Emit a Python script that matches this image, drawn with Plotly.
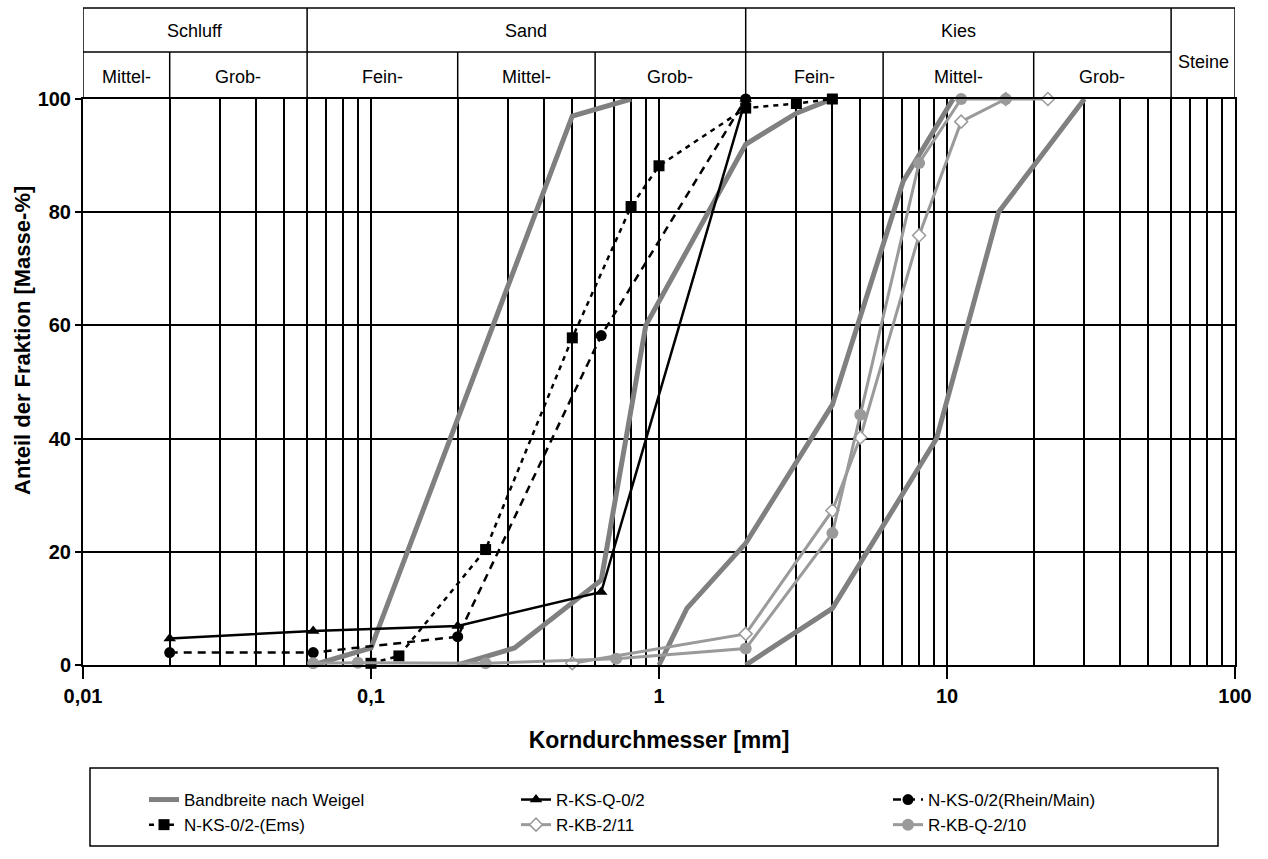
import math
import plotly.graph_objects as go

# ---------------- data ----------------
# Bandbreite nach Weigel: four boundary curves
band1_x = [0.063, 0.1, 0.5, 0.8]
band1_y = [0, 3, 97, 100]
band2_x = [0.2, 0.315, 0.63, 0.9, 2, 3, 4]
band2_y = [0, 3, 15, 60, 92, 97.5, 100]
band3_x = [1.0, 1.25, 2, 4, 7.05, 10.5]
band3_y = [0, 10, 21.5, 46, 85.5, 100]
band4_x = [2, 4, 9.2, 15.1, 30]
band4_y = [0, 10, 40, 80, 100]

rksq_x = [0.02, 0.063, 0.2, 0.63, 2]
rksq_y = [4.7, 6.0, 6.9, 12.9, 100]

nks_rm_x = [0.02, 0.063, 0.2, 0.63, 2]
nks_rm_y = [2.2, 2.2, 5.0, 58.2, 100]

nks_ems_x = [0.1, 0.125, 0.25, 0.5, 0.8, 1, 2, 3, 4]
nks_ems_y = [0.3, 1.6, 20.4, 57.8, 81, 88.2, 98.4, 99.2, 100]

rkb_x = [0.5, 2, 4, 5, 8, 11.2, 16, 22.4]
rkb_y = [0.3, 5.5, 27.3, 40.2, 75.9, 96, 100, 100]

rkbq_x = [0.063, 0.09, 0.25, 0.71, 2, 4, 5, 8, 11.2, 16]
rkbq_y = [0.3, 0.4, 0.3, 1.1, 2.9, 23.3, 44.2, 88.7, 100, 100]

# header classification (grain size classes, mm)
main_classes = ["Schluff", "Sand", "Kies", "Steine"]
main_bounds = [0.01, 0.06, 2, 60, 100]
sub_classes = ["Mittel-", "Grob-", "Fein-", "Mittel-", "Grob-", "Fein-", "Mittel-", "Grob-"]
sub_bounds = [0.01, 0.02, 0.06, 0.2, 0.6, 2, 6, 20, 60]

x_tickvals = [0.01, 0.1, 1, 10, 100]
x_ticktext = ["0,01", "0,1", "1", "10", "100"]
y_tickvals = [0, 20, 40, 60, 80, 100]

# ---------------- styling ----------------
BAND = "#808080"
LIGHT = "#9a9a9a"
NARROW = "Liberation Sans Narrow, Arial Narrow, Liberation Sans, Arial"
BOLD = "Liberation Sans, Arial"

PLOT_H = 859 - 99 - 194  # 566
PLOT_W = 1268 - 83 - 33  # 1152


def py(pix):
    """paper y for a pixel row (layout helper for header/legend frame)"""
    return (665 - pix) / PLOT_H


def px(pix):
    """paper x for a pixel column"""
    return (pix - 83) / PLOT_W


fig = go.Figure()

for i, (bx, by) in enumerate([(band1_x, band1_y), (band2_x, band2_y),
                              (band3_x, band3_y), (band4_x, band4_y)]):
    fig.add_trace(go.Scatter(
        x=bx, y=by, mode="lines", name="Bandbreite nach Weigel",
        legendgroup="band", showlegend=(i == 0),
        line=dict(color=BAND, width=5), cliponaxis=False))

fig.add_trace(go.Scatter(
    x=rksq_x, y=rksq_y, mode="lines+markers", name="R-KS-Q-0/2",
    line=dict(color="black", width=2.5),
    marker=dict(symbol="triangle-up", size=11, color="black"), cliponaxis=False))

fig.add_trace(go.Scatter(
    x=nks_rm_x, y=nks_rm_y, mode="lines+markers", name="N-KS-0/2(Rhein/Main)",
    line=dict(color="black", width=2.5, dash="8px,6px"),
    marker=dict(symbol="circle", size=11, color="black"), cliponaxis=False))

fig.add_trace(go.Scatter(
    x=nks_ems_x, y=nks_ems_y, mode="lines+markers", name="N-KS-0/2-(Ems)",
    line=dict(color="black", width=2.5, dash="5px,5px"),
    marker=dict(symbol="square", size=11, color="black"), cliponaxis=False))

fig.add_trace(go.Scatter(
    x=rkb_x, y=rkb_y, mode="lines+markers", name="R-KB-2/11",
    line=dict(color=LIGHT, width=3),
    marker=dict(symbol="diamond", size=10, color="white",
                line=dict(color=LIGHT, width=1.5)), cliponaxis=False))

fig.add_trace(go.Scatter(
    x=rkbq_x, y=rkbq_y, mode="lines+markers", name="R-KB-Q-2/10",
    line=dict(color=LIGHT, width=3),
    marker=dict(symbol="circle", size=12, color=LIGHT), cliponaxis=False))

# ---------------- header table ----------------
Y_TOP = py(8)
Y_MID = py(52)
shapes = []
line_style = dict(color="black", width=1.5)
shapes.append(dict(type="line", xref="x", yref="paper", x0=main_bounds[0], x1=main_bounds[-1],
                   y0=Y_TOP, y1=Y_TOP, line=line_style))
shapes.append(dict(type="line", xref="x", yref="paper", x0=main_bounds[0], x1=main_bounds[-2],
                   y0=Y_MID, y1=Y_MID, line=line_style))
for b in main_bounds:
    shapes.append(dict(type="line", xref="x", yref="paper", x0=b, x1=b,
                       y0=1, y1=Y_TOP, line=line_style))
for b in sub_bounds[1:-1]:
    if b in main_bounds:
        continue
    shapes.append(dict(type="line", xref="x", yref="paper", x0=b, x1=b,
                       y0=1, y1=Y_MID, line=line_style))

annotations = []
for i, name in enumerate(main_classes):
    lo, hi = main_bounds[i], main_bounds[i + 1]
    cx = (math.log10(lo) + math.log10(hi)) / 2
    y = py(31) if name != "Steine" else py(62)
    annotations.append(dict(x=cx, y=y, xref="x", yref="paper", text=name,
                            xanchor="center", yanchor="middle",
                            showarrow=False, font=dict(family=NARROW, size=18, color="black")))
for i, name in enumerate(sub_classes):
    lo, hi = sub_bounds[i], sub_bounds[i + 1]
    cx = (math.log10(lo) + math.log10(hi)) / 2
    annotations.append(dict(x=cx, y=py(77), xref="x", yref="paper", text=name,
                            xanchor="center", yanchor="middle",
                            showarrow=False, font=dict(family=NARROW, size=18, color="black")))

# y axis title (centred on plot + header block, as in the original)
annotations.append(dict(x=px(22), y=py(341), xref="paper", yref="paper",
                        text="Anteil der Fraktion [Masse-%]", textangle=-90,
                        xanchor="center", yanchor="middle", showarrow=False,
                        font=dict(family=BOLD, size=22, color="black", weight="bold")))

# legend frame
shapes.append(dict(type="rect", xref="paper", yref="paper",
                   x0=px(90), x1=px(1218),
                   y0=py(846), y1=py(768),
                   line=dict(color="black", width=1.5), fillcolor="rgba(0,0,0,0)"))

fig.update_layout(
    width=1268, height=859,
    margin=dict(l=83, r=33, t=99, b=194, autoexpand=False),
    paper_bgcolor="white", plot_bgcolor="white",
    shapes=shapes, annotations=annotations,
    showlegend=True,
    legend=dict(orientation="h", x=px(144), xanchor="left",
                y=py(782), yanchor="top",
                entrywidth=327, entrywidthmode="pixels",
                font=dict(family=NARROW, size=17, color="black"),
                bgcolor="rgba(0,0,0,0)", tracegroupgap=0, traceorder="normal"),
    xaxis=dict(type="log", range=[-2, 2],
               tickvals=x_tickvals, ticktext=x_ticktext,
               ticks="outside", ticklen=12, tickwidth=1.5, tickcolor="black",
               showgrid=True, gridcolor="black", gridwidth=1.5,
               minor=dict(dtick="D1", showgrid=True, gridcolor="black", gridwidth=1.5, ticks=""),
               showline=True, linecolor="black", linewidth=2, mirror=True,
               tickfont=dict(family=BOLD, size=20, color="black", weight="bold"),
               title=dict(text="Korndurchmesser [mm]", standoff=26,
                          font=dict(family=BOLD, size=23, color="black", weight="bold")),
               zeroline=False),
    yaxis=dict(range=[0, 100], tickvals=y_tickvals,
               ticks="outside", ticklen=6, tickwidth=1.5, tickcolor="black",
               showgrid=True, gridcolor="black", gridwidth=1.5,
               showline=True, linecolor="black", linewidth=2, mirror=True,
               tickfont=dict(family=BOLD, size=20, color="black", weight="bold"),
               zeroline=False),
)

fig.write_html("out.html")
